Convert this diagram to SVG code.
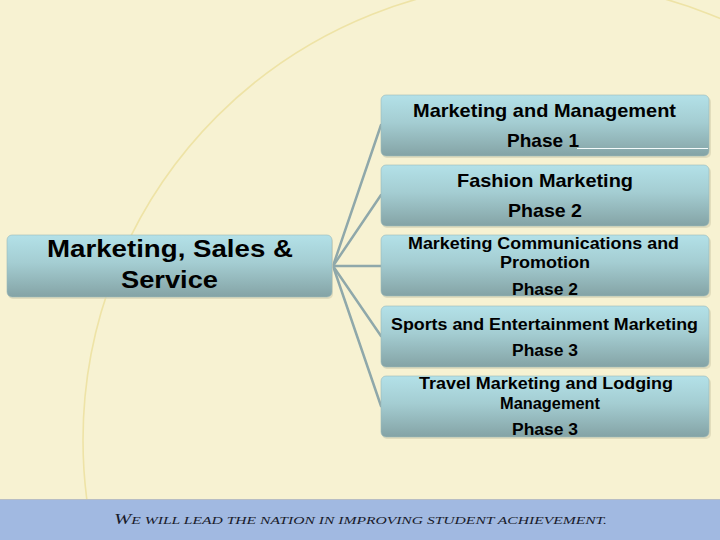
<svg xmlns="http://www.w3.org/2000/svg" width="720" height="540" viewBox="0 0 720 540">
<defs>
<linearGradient id="nodeFill" x1="0" y1="0" x2="0" y2="1">
<stop offset="0" stop-color="#b3e1e8"/>
<stop offset="0.45" stop-color="#a4cdd2"/>
<stop offset="1" stop-color="#84a3a5"/>
</linearGradient>
<clipPath id="page"><rect x="0" y="0" width="720" height="499"/></clipPath>
</defs>
<style>
.node{fill:url(#nodeFill);stroke:#9ab8ba;stroke-width:0.6}
.shadow{fill:#d9d4b4;opacity:0.7}
.t{font-family:"Liberation Sans",Arial,sans-serif;font-weight:bold;fill:#000;text-anchor:middle}
.conn{stroke:#8fa8aa;stroke-width:2.5;fill:none;stroke-linecap:round}
.motto{font-family:"Liberation Serif","Times New Roman",serif;font-style:italic;fill:#1a1c2c;text-anchor:middle}
</style>
<rect x="0" y="0" width="720" height="540" fill="#f7f2d2"/>
<circle cx="541" cy="440" r="458" fill="none" stroke="#eee3a6" stroke-width="1.6" clip-path="url(#page)"/>
<rect x="0" y="499" width="720" height="41" fill="#a1b9e1"/>
<line x1="0" y1="499.5" x2="720" y2="499.5" stroke="#b7bdc4" stroke-width="1"/>
<text class="motto" x="360.5" y="523.5" font-size="10.5" textLength="493" lengthAdjust="spacingAndGlyphs"><tspan font-size="14">W</tspan>E WILL LEAD THE NATION IN IMPROVING STUDENT ACHIEVEMENT.</text>

<g id="connectors">
<line class="conn" x1="333" y1="266" x2="381" y2="125"/>
<line class="conn" x1="333" y1="266" x2="381" y2="195"/>
<line class="conn" x1="333" y1="266" x2="381" y2="266"/>
<line class="conn" x1="333" y1="266" x2="381" y2="336"/>
<line class="conn" x1="333" y1="266" x2="381" y2="406"/>
</g>

<g id="root">
<rect class="shadow" x="8" y="237" width="325" height="62" rx="5"/>
<rect class="node" x="7" y="235" width="325" height="62" rx="5"/>
<text class="t" x="170" y="257" font-size="24" textLength="246" lengthAdjust="spacingAndGlyphs">Marketing, Sales &amp;</text>
<text class="t" x="169.5" y="288" font-size="24" textLength="97" lengthAdjust="spacingAndGlyphs">Service</text>
</g>

<g id="n1">
<rect class="shadow" x="382" y="97" width="329" height="61" rx="5"/>
<rect class="node" x="381" y="95" width="328" height="61" rx="5"/>
<text class="t" x="544.5" y="117" font-size="18.5" textLength="263" lengthAdjust="spacingAndGlyphs">Marketing and Management</text>
<text class="t" x="543" y="147" font-size="18.5" textLength="72" lengthAdjust="spacingAndGlyphs">Phase 1</text>
<line x1="577" y1="148.5" x2="708" y2="148.5" stroke="#f4fbfb" stroke-width="1"/>
</g>

<g id="n2">
<rect class="shadow" x="382" y="167" width="329" height="61" rx="5"/>
<rect class="node" x="381" y="165" width="328" height="61" rx="5"/>
<text class="t" x="545" y="187" font-size="18.5" textLength="176" lengthAdjust="spacingAndGlyphs">Fashion Marketing</text>
<text class="t" x="545" y="216.5" font-size="18.5" textLength="74" lengthAdjust="spacingAndGlyphs">Phase 2</text>
</g>

<g id="n3">
<rect class="shadow" x="382" y="237" width="329" height="61" rx="5"/>
<rect class="node" x="381" y="235" width="328" height="61" rx="5"/>
<text class="t" x="543.5" y="248.5" font-size="16" textLength="271" lengthAdjust="spacingAndGlyphs">Marketing Communications and</text>
<text class="t" x="545" y="267.5" font-size="16" textLength="90" lengthAdjust="spacingAndGlyphs">Promotion</text>
<text class="t" x="545" y="294.5" font-size="16" textLength="66" lengthAdjust="spacingAndGlyphs">Phase 2</text>
</g>

<g id="n4">
<rect class="shadow" x="382" y="308" width="329" height="61" rx="5"/>
<rect class="node" x="381" y="306" width="328" height="61" rx="5"/>
<text class="t" x="544.5" y="330" font-size="17" textLength="307" lengthAdjust="spacingAndGlyphs">Sports and Entertainment Marketing</text>
<text class="t" x="545" y="356" font-size="16" textLength="66" lengthAdjust="spacingAndGlyphs">Phase 3</text>
</g>

<g id="n5">
<rect class="shadow" x="382" y="378" width="329" height="61" rx="5"/>
<rect class="node" x="381" y="376" width="328" height="61" rx="5"/>
<text class="t" x="546" y="389" font-size="17" textLength="254" lengthAdjust="spacingAndGlyphs">Travel Marketing and Lodging</text>
<text class="t" x="550" y="408.5" font-size="17" textLength="100" lengthAdjust="spacingAndGlyphs">Management</text>
<text class="t" x="545" y="434.5" font-size="16" textLength="66" lengthAdjust="spacingAndGlyphs">Phase 3</text>
</g>
</svg>
